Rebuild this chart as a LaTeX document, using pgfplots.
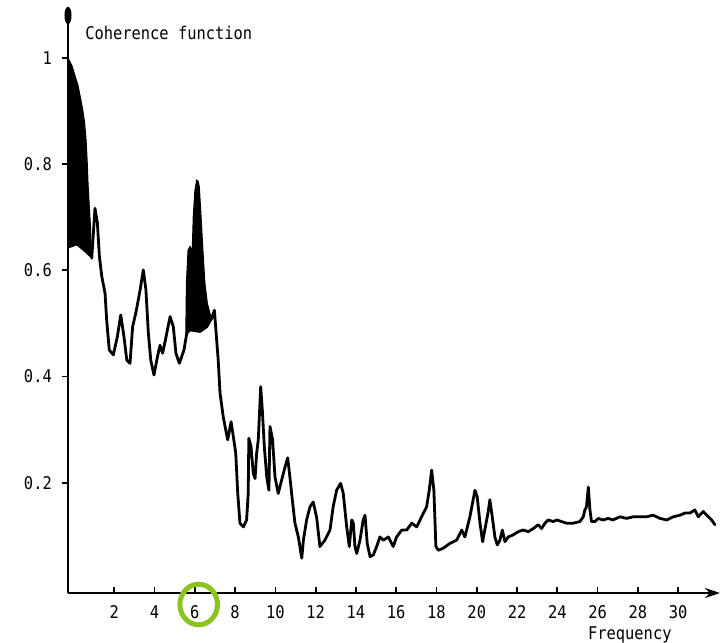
\documentclass[border=0pt]{standalone}
\usepackage{fontspec}
\setmainfont[FakeStretch=0.88]{DejaVu Sans Mono}
\usepackage{pgfplots}
\pgfplotsset{compat=1.18}
\usetikzlibrary{arrows.meta}
\definecolor{markgreen}{RGB}{141,195,31}

\newcommand{\labelfont}{\fontsize{17.5bp}{20bp}\selectfont}

\begin{document}
\begin{tikzpicture}
\useasboundingbox (0,0) rectangle (726bp,643bp);
\begin{axis}[
  at={(68bp,50bp)}, anchor=south west,
  scale only axis, width=652bp, height=586bp,
  xmin=-0.3, xmax=32.08, ymin=-0.0075, ymax=1.096,
  axis x line=bottom, axis y line=left,
  axis line style={line width=2.4bp, black},
  x axis line style={-{Stealth[length=15bp,width=10bp]}},
  y axis line style={-{Ellipse[length=17bp,width=7bp]}},
  xtick={2,4,...,30},
  ytick={0.2,0.4,0.6,0.8,1},
  yticklabels={0.2,0.4,0.6,0.8,1},
  tick align=inside, major tick length=6bp,
  tick style={black, line width=1.8bp},
  y tick style={xshift=-6bp},
  /pgf/number format/assume math mode=true,
  tick label style={font=\labelfont, text=black},
  xticklabel style={anchor=base, inner sep=0pt, yshift=-25.5bp},
  yticklabel style={anchor=east, inner sep=0pt, xshift=-16bp},
  clip=false,
]
% dense oscillation band at low frequency
\addplot[draw=black, fill=black, line width=1bp] coordinates {
  (-0.3,1.0) (-0.1,0.985) (0.2,0.948) (0.42,0.905) (0.52,0.88) (0.6,0.845)
  (0.66,0.80) (0.70,0.76) (0.76,0.72) (0.82,0.68) (0.88,0.623)
  (0.55,0.635) (0.13,0.648) (-0.3,0.642)
} -- cycle;
% dense oscillation band around 6
\addplot[draw=black, fill=black, line width=1bp] coordinates {
  (5.55,0.48) (5.58,0.576) (5.66,0.638) (5.76,0.645) (5.87,0.638) (5.92,0.701)
  (6.0,0.75) (6.09,0.770) (6.16,0.768) (6.22,0.758) (6.31,0.701) (6.39,0.645)
  (6.50,0.576) (6.62,0.538) (6.75,0.519) (6.84,0.51)
  (6.59,0.494) (6.26,0.485) (5.76,0.488)
} -- cycle;
% coherence curve
\addplot[black, line width=2.8bp, line join=round, line cap=round] coordinates {
  (0.88,0.623) (1.04,0.717) (1.16,0.689) (1.26,0.626) (1.38,0.588) (1.54,0.557)
  (1.62,0.507) (1.75,0.450) (1.95,0.441) (2.15,0.475) (2.32,0.516) (2.48,0.475)
  (2.62,0.431) (2.78,0.425) (2.91,0.494) (3.08,0.522) (3.28,0.563) (3.44,0.601)
  (3.57,0.563) (3.69,0.482) (3.81,0.431) (3.97,0.403) (4.14,0.437) (4.27,0.459)
  (4.40,0.444) (4.57,0.475) (4.77,0.513) (4.93,0.494) (5.06,0.444) (5.23,0.425)
  (5.46,0.450) (5.60,0.482) (5.76,0.488) (6.26,0.485) (6.59,0.494) (6.84,0.510)
  (6.97,0.525) (7.16,0.431) (7.25,0.369) (7.41,0.324) (7.63,0.281) (7.80,0.315)
  (7.91,0.287) (8.03,0.256) (8.13,0.180) (8.24,0.124) (8.41,0.117) (8.57,0.130)
  (8.65,0.180) (8.68,0.284) (8.79,0.268) (8.90,0.218) (8.99,0.208) (9.07,0.256)
  (9.15,0.281) (9.27,0.381) (9.35,0.337) (9.45,0.268) (9.57,0.211) (9.68,0.186)
  (9.73,0.306) (9.86,0.281) (9.98,0.211) (10.14,0.180) (10.31,0.205) (10.48,0.230)
  (10.61,0.247) (10.72,0.211) (10.84,0.168) (10.97,0.124) (11.14,0.098) (11.31,0.058)
  (11.39,0.092) (11.55,0.130) (11.72,0.155) (11.88,0.164) (12.05,0.134) (12.21,0.080)
  (12.46,0.092) (12.71,0.111) (12.87,0.155) (13.04,0.186) (13.24,0.199) (13.37,0.180)
  (13.54,0.117) (13.67,0.080) (13.79,0.130) (13.87,0.124) (13.95,0.080) (14.04,0.067)
  (14.20,0.092) (14.36,0.130) (14.45,0.139) (14.56,0.086) (14.70,0.061) (14.86,0.064)
  (15.03,0.080) (15.19,0.098) (15.36,0.092) (15.61,0.098) (15.85,0.080) (16.02,0.098)
  (16.27,0.111) (16.52,0.111) (16.77,0.124) (17.02,0.117) (17.26,0.136) (17.51,0.155)
  (17.64,0.186) (17.76,0.224) (17.87,0.186) (17.97,0.080) (18.09,0.073) (18.34,0.077)
  (18.67,0.086) (19.00,0.092) (19.25,0.111) (19.41,0.098) (19.66,0.136) (19.91,0.186)
  (20.02,0.174) (20.16,0.124) (20.29,0.089) (20.57,0.146) (20.65,0.168) (20.77,0.136)
  (20.90,0.098) (21.02,0.083) (21.15,0.092) (21.27,0.111) (21.40,0.089) (21.56,0.098)
  (21.81,0.102) (22.06,0.108) (22.31,0.111) (22.56,0.108) (22.81,0.114) (23.05,0.121)
  (23.22,0.114) (23.39,0.124) (23.55,0.130) (23.80,0.127) (23.97,0.130) (24.22,0.127)
  (24.46,0.124) (24.79,0.124) (25.12,0.127) (25.29,0.136) (25.37,0.149) (25.45,0.155)
  (25.54,0.192) (25.62,0.149) (25.70,0.127) (25.87,0.127) (26.03,0.133) (26.27,0.130)
  (26.53,0.133) (26.76,0.130) (27.11,0.136) (27.44,0.133) (27.77,0.136) (28.10,0.136)
  (28.44,0.136) (28.76,0.139) (29.10,0.133) (29.43,0.130) (29.76,0.136) (30.09,0.139)
  (30.34,0.143) (30.59,0.143) (30.83,0.149) (31.00,0.136) (31.25,0.146) (31.42,0.139)
  (31.66,0.130) (31.83,0.121)
};
\node[anchor=base west, inner sep=0pt, font=\labelfont] at (axis cs:0.55,1.034) {Coherence function};
\node[anchor=base west, inner sep=0pt, font=\labelfont] at (axis cs:25.52,-0.096) {Frequency};
\end{axis}
% highlight ring around the 6 tick label
\draw[markgreen, line width=5bp] (198.7bp,38.5bp) ellipse [x radius=18.8bp, y radius=20.3bp];
\end{tikzpicture}
\end{document}
